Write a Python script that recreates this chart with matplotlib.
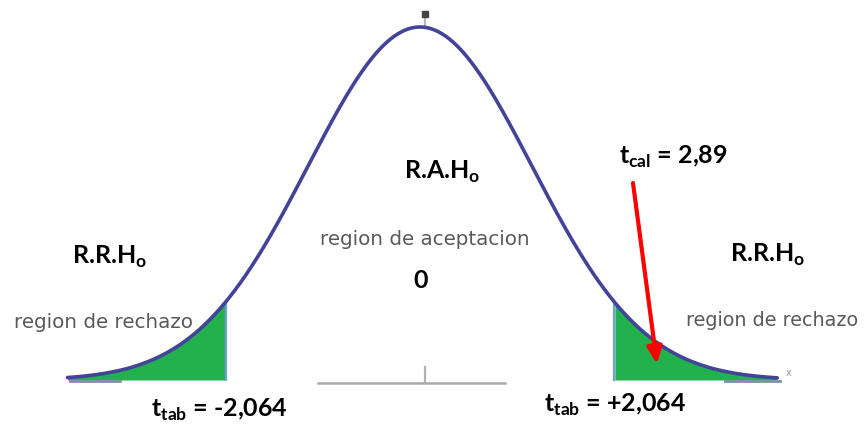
import numpy as np
import matplotlib
matplotlib.use("Agg")
import matplotlib.pyplot as plt

plt.rcParams['mathtext.fontset'] = 'custom'
plt.rcParams['mathtext.bf'] = 'Lato:bold'
plt.rcParams['mathtext.rm'] = 'Lato:bold'

# ---- data ----
t_crit = 2.064          # critical t (two tails)
t_cal = 2.89            # calculated t
curve_sigma = 1.19      # spread of the drawn bell curve (in t units)
curve_range = [-3.75, 3.8]
center_label = "0"
accept_label = "region de aceptacion"
reject_label = "region de rechazo"
rah_label = r"R.A.H$_\mathbf{o}$"
rrh_label = r"R.R.H$_\mathbf{o}$"
ttab_left_label = r"$\mathbf{t}_\mathbf{tab}$ = -2,064"
ttab_right_label = r"$\mathbf{t}_\mathbf{tab}$ = +2,064"
tcal_label = r"$\mathbf{t}_\mathbf{cal}$ = 2,89"

# ---- layout helpers (pixel -> data) ----
W, H = 866, 425
CX, SX = 420.0, 94.0
BY, SY = 380.0, 353.0
def X(px): return (px - CX) / SX
def Y(py): return (BY - py) / SY

fig = plt.figure(figsize=(W / 100, H / 100), dpi=100)
ax = fig.add_axes([0, 0, 1, 1])
ax.set_xlim(X(0), X(W))
ax.set_ylim(Y(H), Y(0))
ax.axis('off')

x = np.linspace(curve_range[0], curve_range[1], 600)
y = np.exp(-0.5 * (x / curve_sigma) ** 2)

green = '#22b14c'
edge_blue = '#6f9fd3'
curve_col = '#434399'

# tails
ml = x <= -t_crit
mr = x >= t_crit
ax.fill_between(x[ml], 0, y[ml], color=green, lw=0, zorder=1)
ax.fill_between(x[mr], 0, y[mr], color=green, lw=0, zorder=1)
yl = np.exp(-0.5 * (t_crit / curve_sigma) ** 2)
ax.plot([-t_crit, -t_crit], [0, yl], color=edge_blue, lw=1.6, zorder=2)
ax.plot([t_crit, t_crit], [0, yl], color=edge_blue, lw=1.6, zorder=2)

# baseline pieces
ax.plot([X(70), X(120)], [Y(381), Y(381)], color='#7f8fa8', lw=2, zorder=1.5)
ax.plot([X(318), X(505)], [Y(382.5), Y(382.5)], color='#a8a8a8', lw=1.8, zorder=1.5)
ax.plot([X(725), X(780)], [Y(381), Y(381)], color='#7f8fa8', lw=2, zorder=1.5)
ax.plot([X(425), X(425)], [Y(367), Y(383)], color='#b0b0b0', lw=1.6, zorder=1.5)
# top tick
ax.plot([X(425), X(425)], [Y(12), Y(28)], color='#b8b8b8', lw=1.6, zorder=1.5)
ax.plot([X(425)], [Y(14)], marker='s', ms=4, color='#444444', zorder=3)

# curve
ax.plot(x, y, color=curve_col, lw=2.6, zorder=3, solid_capstyle='round')

# gray text
gray = '#595959'
ax.text(X(425), Y(240), accept_label, color=gray, fontsize=14.3, ha='center', va='center',
        family='DejaVu Sans')
ax.text(X(104), Y(323), reject_label, color=gray, fontsize=14.3, ha='center', va='center',
        family='DejaVu Sans')
ax.text(X(772), Y(321), reject_label, color=gray, fontsize=13.8, ha='center', va='center',
        family='DejaVu Sans')
ax.text(X(789), Y(373), "x", color='#999999', fontsize=7, ha='center', va='center')

# bold labels
bold = dict(family='Lato', fontweight='bold', color='black', va='center')
ax.text(X(442), Y(172), rah_label, fontsize=18, ha='center', **bold)
ax.text(X(110), Y(257), rrh_label, fontsize=18, ha='center', **bold)
ax.text(X(768), Y(255), rrh_label, fontsize=18, ha='center', **bold)
ax.text(X(421), Y(281), center_label, fontsize=18, ha='center', **bold)
ax.text(X(219), Y(410), ttab_left_label, fontsize=18, ha='center', **bold)
ax.text(X(615), Y(405), ttab_right_label, fontsize=18, ha='center', **bold)
ax.text(X(673), Y(157), tcal_label, fontsize=18, ha='center', **bold)

# red arrow
ax.annotate("", xy=(X(657), Y(364)), xytext=(X(633), Y(183)),
            arrowprops=dict(arrowstyle='-|>,head_length=1.0,head_width=0.45',
                            color='#ff0000', lw=3, shrinkA=0, shrinkB=0), zorder=5)

fig.savefig("out.png", dpi=100)
